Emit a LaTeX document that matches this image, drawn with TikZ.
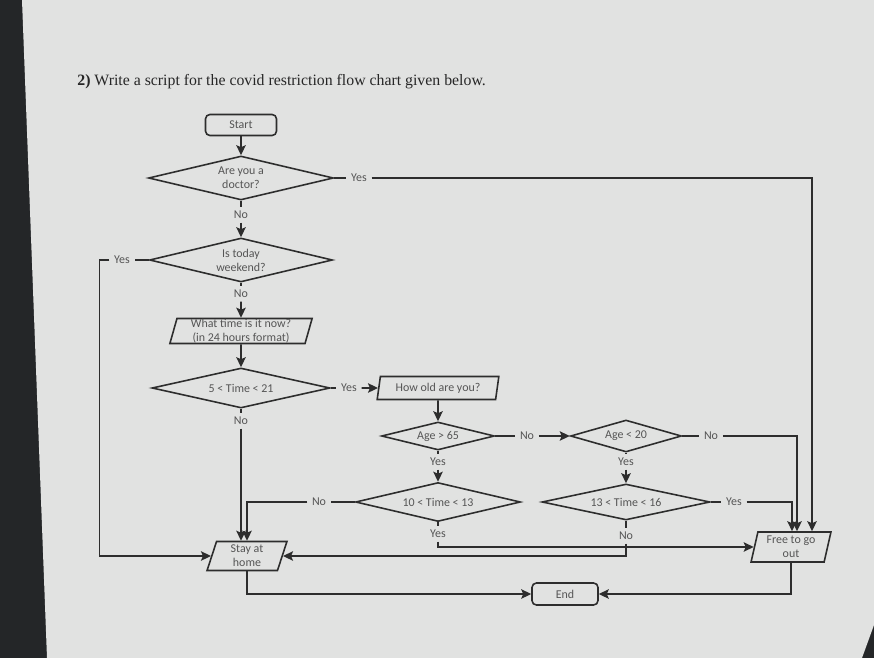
\documentclass[tikz,border=0pt]{standalone}
\usepackage{fontspec}
\setmainfont{Liberation Serif}
\newfontfamily\chartfont{Carlito}
\usetikzlibrary{arrows.meta,positioning,calc,shapes.geometric}
\definecolor{inkcolor}{RGB}{45,45,45}
\definecolor{txtcolor}{RGB}{85,85,85}
\definecolor{pagebg}{RGB}{225,226,225}
\definecolor{bezel}{RGB}{36,38,40}
\tikzset{
  chart/.style={font=\chartfont\fontsize{6.8}{8}\selectfont, text=txtcolor},
  termbox/.style={chart, draw=inkcolor, line width=0.9pt, rounded corners=2.5pt, inner sep=0pt},
  iobox/.style={chart, draw=inkcolor, line width=0.9pt, trapezium, trapezium left angle=77,
    trapezium right angle=103, trapezium stretches=true, inner sep=0pt, align=center},
  decision/.style={chart, draw=inkcolor, line width=0.9pt, diamond, shape aspect=4,
    inner sep=0pt, align=center},
  yn/.style={chart, inner xsep=2.5pt, inner ysep=2pt},
  link/.style={draw=inkcolor, line width=0.9pt},
  linkarr/.style={link, -{Stealth[length=2mm,width=1.9mm,inset=0.4mm]}},
}

\begin{document}
\begin{tikzpicture}[x=0.02cm, y=-0.02cm]
  \useasboundingbox (0,0) rectangle (874,658);
  % photographed page
  \fill[bezel] (0,0) rectangle (874,658);
  \fill[pagebg] (22,0) -- (874,0) -- (874,625) -- (862,658) -- (47,658) -- cycle;
  \node[anchor=base west, inner sep=0pt, text=black!85, font=\fontsize{9}{11}\selectfont]
    (title) at (77,86) {\textbf{2)} Write a script for the covid restriction flow chart given below.};

  % boxes
  \node[termbox, minimum width=1.42cm, minimum height=0.42cm] (start) at (241,125) {Start};
  \node[decision, minimum width=3.70cm, minimum height=0.88cm] (doc) at (241,178) {Are you a\\doctor?};
  \node[decision, minimum width=3.66cm, minimum height=0.88cm] (wknd) at (241,260) {Is today\\weekend?};
  \node[iobox, minimum width=2.86cm, minimum height=0.50cm] (when) at (241,331)
    {What time is it now?\\(in 24 hours format)};
  \node[decision, minimum width=3.56cm, minimum height=0.80cm] (day) at (241,388) {5 < Time < 21};
  \node[iobox, minimum width=2.44cm, minimum height=0.46cm] (howold) at (438,388) {How old are you?};
  \node[decision, minimum width=2.26cm, minimum height=0.56cm] (old) at (438,436) {Age > 65};
  \node[decision, minimum width=2.22cm, minimum height=0.64cm] (young) at (626,436) {Age < 20};
  \node[decision, minimum width=3.30cm, minimum height=0.78cm] (morn) at (438,502) {10 < Time < 13};
  \node[decision, minimum width=3.36cm, minimum height=0.72cm] (aft) at (626,502) {13 < Time < 16};
  \node[iobox, minimum width=1.60cm, minimum height=0.58cm] (stay) at (247,556) {Stay at\\home};
  \node[iobox, minimum width=1.60cm, minimum height=0.60cm] (free) at (791,547) {Free to go\\out};
  \node[termbox, minimum width=1.32cm, minimum height=0.44cm] (end) at (565,594) {End};

  % yes/no labels
  \node[yn] (docno) at (241,215) {No};
  \node[yn] (docyes) at (359,178) {Yes};
  \node[yn] (wkyes) at (122,260) {Yes};
  \node[yn] (wkno) at (241,294) {No};
  \node[yn] (dayyes) at (349,388) {Yes};
  \node[yn] (dayno) at (241,421) {No};
  \node[yn] (oldno) at (527,436) {No};
  \node[yn] (oldyes) at (438,462) {Yes};
  \node[yn] (youngno) at (711,436) {No};
  \node[yn] (youngyes) at (626,462) {Yes};
  \node[yn] (mornno) at (319,502) {No};
  \node[yn] (mornyes) at (438,534) {Yes};
  \node[yn] (aftyes) at (734,502) {Yes};
  \node[yn] (aftno) at (626,536) {No};

  % main column
  \draw[linkarr] (start) -- (doc);
  \draw[link] (doc) -- (docno);
  \draw[linkarr] (docno) -- (wknd);
  \draw[link] (wknd) -- (wkno);
  \draw[linkarr] (wkno) -- (when);
  \draw[linkarr] (when) -- (day);
  \draw[link] (day) -- (dayno);
  \draw[linkarr] (dayno) -- (dayno |- stay.north);
  \draw[link] (doc) -- (docyes);
  \draw[linkarr] (docyes) -| ($(free.north)+(21,0)$);
  \draw[link] (wknd) -- (wkyes);
  \draw[linkarr] (wkyes.west) -- ++(-10,0) |- (stay.west);

  % age and time checks
  \draw[link] (day) -- (dayyes);
  \draw[linkarr] (dayyes) -- (howold);
  \draw[linkarr] (howold) -- (old);
  \draw[link] (old) -- (oldno);
  \draw[linkarr] (oldno) -- (young);
  \draw[link] (old) -- (oldyes);
  \draw[linkarr] (oldyes) -- (morn);
  \draw[link] (young) -- (youngno);
  \draw[linkarr] (youngno) -| ($(free.north)+(6,0)$);
  \draw[link] (young) -- (youngyes);
  \draw[linkarr] (youngyes) -- (aft);
  \draw[link] (morn) -- (mornno);
  \draw[linkarr] (mornno) -| (stay.north);
  \draw[link] (morn) -- (mornyes);
  \draw[linkarr] (mornyes) |- (free.west);
  \draw[link] (aft) -- (aftyes);
  \draw[linkarr] (aftyes) -| ($(free.north)+(1,0)$);
  \draw[link] (aft) -- (aftno);
  \draw[linkarr] (aftno) |- (stay.east);

  % to the end
  \draw[linkarr] (stay) |- (end);
  \draw[linkarr] (free) |- (end);
\end{tikzpicture}
\end{document}
